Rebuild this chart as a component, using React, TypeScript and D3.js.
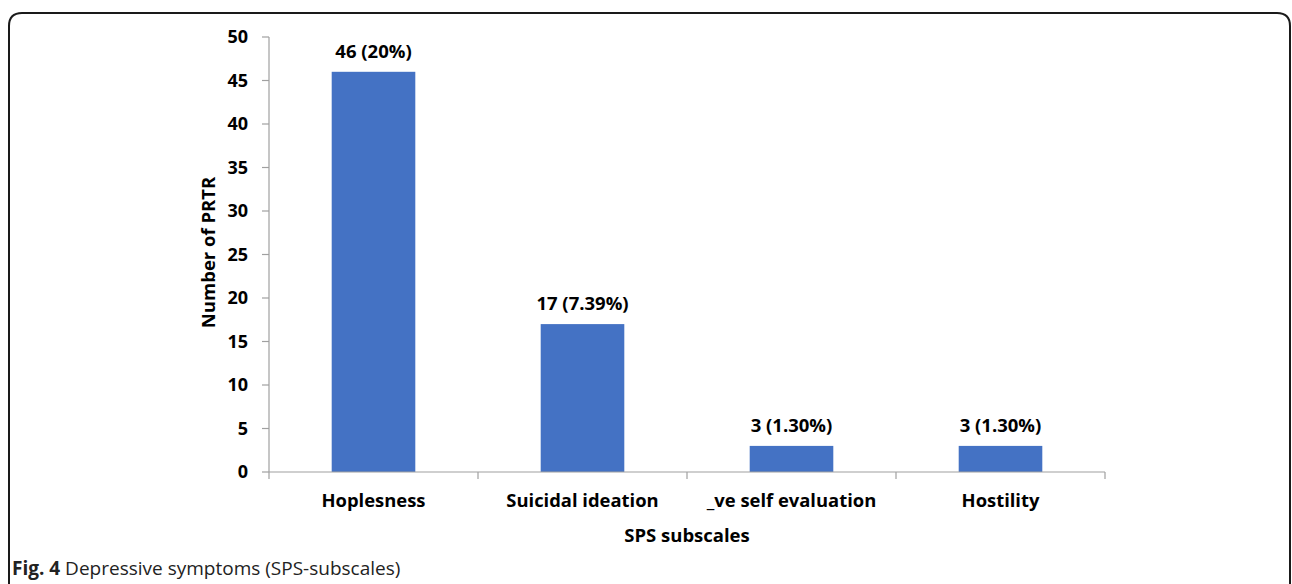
import { useEffect, useRef } from 'react'
import * as d3 from 'd3'

const categories = ['Hoplesness', 'Suicidal ideation', '_ve self evaluation', 'Hostility']
const counts = [46, 17, 3, 3]
const labels = ['46 (20%)', '17 (7.39%)', '3 (1.30%)', '3 (1.30%)']
const yTicks = [0, 5, 10, 15, 20, 25, 30, 35, 40, 45, 50]

const W = 1292
const H = 584

export default function App() {
  const svgRef = useRef<SVGSVGElement>(null)

  useEffect(() => {
    if (!svgRef.current) return
    const svg = d3.select(svgRef.current)
    svg.selectAll('*').remove()

    const font = "'Open Sans', sans-serif"
    const left = 269
    const right = 1105
    const top = 37
    const bottom = 472

    // frame with rounded top corners
    const r = 13
    const fx0 = 9
    const fx1 = 1290
    const fy = 13
    svg
      .append('path')
      .attr(
        'd',
        `M${fx0},${H + 5} L${fx0},${fy + r} Q${fx0},${fy} ${fx0 + r},${fy} L${fx1 - r},${fy} Q${fx1},${fy} ${fx1},${fy + r} L${fx1},${H + 5}`
      )
      .attr('fill', 'none')
      .attr('stroke', '#1a1a1a')
      .attr('stroke-width', 2)

    const x = d3.scaleBand().domain(categories).range([left, right]).paddingInner(0).paddingOuter(0)
    const y = d3.scaleLinear().domain([0, 50]).range([bottom, top])

    // bars
    const barW = x.bandwidth() * 0.4
    svg
      .append('g')
      .selectAll('rect')
      .data(categories)
      .enter()
      .append('rect')
      .attr('x', (d) => x(d)! + (x.bandwidth() - barW) / 2)
      .attr('y', (d, i) => y(counts[i]))
      .attr('width', barW)
      .attr('height', (d, i) => y(0) - y(counts[i]))
      .attr('fill', '#4472C4')

    // y axis
    const axisColor = '#a0a0a0'
    svg
      .append('line')
      .attr('x1', left)
      .attr('x2', left)
      .attr('y1', top)
      .attr('y2', bottom)
      .attr('stroke', axisColor)
      .attr('stroke-width', 1.2)
    const yt = svg.append('g').selectAll('g').data(yTicks).enter().append('g')
    yt.append('line')
      .attr('x1', left - 7)
      .attr('x2', left)
      .attr('y1', (d) => y(d))
      .attr('y2', (d) => y(d))
      .attr('stroke', axisColor)
      .attr('stroke-width', 1.2)
    yt.append('text')
      .attr('x', left - 21)
      .attr('y', (d) => y(d))
      .attr('dy', '0.36em')
      .attr('text-anchor', 'end')
      .style('font-family', font)
      .style('font-weight', 'bold')
      .style('font-size', '18px')
      .attr('fill', '#000')
      .text((d) => d)

    // x axis
    svg
      .append('line')
      .attr('x1', left)
      .attr('x2', right)
      .attr('y1', bottom)
      .attr('y2', bottom)
      .attr('stroke', axisColor)
      .attr('stroke-width', 1.2)
    const boundaries = categories.map((c) => x(c)!).concat([right])
    svg
      .append('g')
      .selectAll('line')
      .data(boundaries)
      .enter()
      .append('line')
      .attr('x1', (d) => d)
      .attr('x2', (d) => d)
      .attr('y1', bottom)
      .attr('y2', bottom + 7)
      .attr('stroke', axisColor)
      .attr('stroke-width', 1.2)

    svg
      .append('g')
      .selectAll('text')
      .data(categories)
      .enter()
      .append('text')
      .attr('x', (d) => x(d)! + x.bandwidth() / 2)
      .attr('y', 507)
      .attr('text-anchor', 'middle')
      .style('font-family', font)
      .style('font-weight', 'bold')
      .style('font-size', '18.4px')
      .text((d) => d)

    // data labels
    svg
      .append('g')
      .selectAll('text')
      .data(categories)
      .enter()
      .append('text')
      .attr('x', (d) => x(d)! + x.bandwidth() / 2)
      .attr('y', (d, i) => y(counts[i]) - 14)
      .attr('text-anchor', 'middle')
      .style('font-family', font)
      .style('font-weight', 'bold')
      .style('font-size', '18.5px')
      .text((d, i) => labels[i])

    // axis titles
    svg
      .append('text')
      .attr('x', (left + right) / 2)
      .attr('y', 542)
      .attr('text-anchor', 'middle')
      .style('font-family', font)
      .style('font-weight', 'bold')
      .style('font-size', '18.5px')
      .text('SPS subscales')
    svg
      .append('text')
      .attr('transform', `translate(215,${(top + bottom) / 2 - 2}) rotate(-90)`)
      .attr('text-anchor', 'middle')
      .style('font-family', font)
      .style('font-weight', 'bold')
      .style('font-size', '18.5px')
      .text('Number of PRTR')

    // caption
    const cap = svg
      .append('text')
      .attr('x', 12)
      .attr('y', 575)
      .style('font-family', "'Open Sans', 'Noto Sans', sans-serif")
      .style('font-size', '19px')
      .attr('fill', '#222')
    cap.append('tspan').style('font-weight', 'bold').text('Fig. 4')
    cap.append('tspan').text(' Depressive symptoms (SPS-subscales)')
  }, [])

  return (
    <svg
      ref={svgRef}
      width={W}
      height={H}
      style={{ position: 'absolute', left: 0, top: 0, background: '#fff' }}
    />
  )
}
